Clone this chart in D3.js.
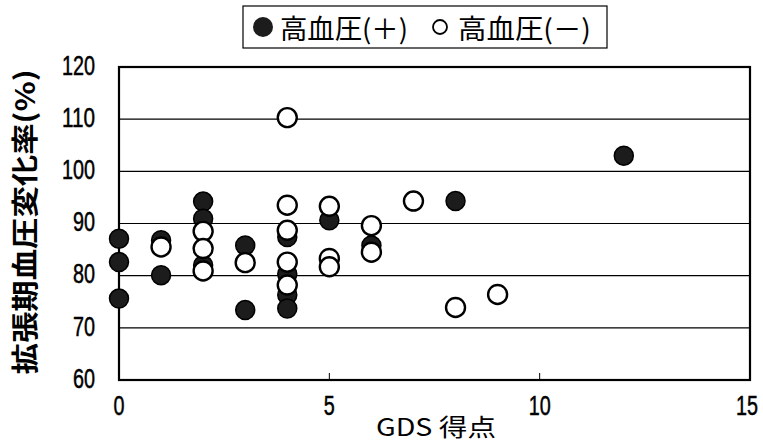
<!DOCTYPE html>
<html lang="ja">
<head>
  <meta charset="UTF-8" />
  <title>GDS score vs diastolic BP change</title>
  <script src="https://d3js.org/d3.v7.min.js"></script>
  <style>
    body { margin: 0; background: #fff; }
    text { fill: #000; }
    .tick-label { font-family: 'Liberation Sans', Arial, sans-serif; font-size: 27px; stroke: #000; stroke-width: 0.5px; }
    .jp { font-family: 'Noto Sans CJK JP', sans-serif; }
  </style>
</head>
<body>
<svg id="chart" width="763" height="442"></svg>
<script>
  // ticks
  const xTicks = [0, 5, 10, 15];
  const yTicks = [60, 70, 80, 90, 100, 110, 120];

  // 高血圧(＋) : filled circles  [GDS score, % change]
  const hyperX = [0, 0, 0, 1, 1, 2, 2, 2, 3, 3, 4, 4, 4, 4, 5, 6, 8, 12];
  const hyperY = [87.1, 82.6, 75.6, 86.8, 80.1, 94.2, 90.9, 82.0, 85.8, 73.4, 87.4, 80.3, 76.3, 73.7, 90.6, 85.8, 94.3, 103.0];

  // 高血圧(－) : open circles
  const normX = [1, 2, 2, 2, 3, 4, 4, 4, 4, 4, 5, 5, 5, 6, 6, 7, 8, 9];
  const normY = [85.5, 88.5, 85.2, 80.9, 82.5, 110.3, 93.5, 88.7, 82.6, 78.2, 93.3, 83.3, 81.7, 89.6, 84.5, 94.3, 73.9, 76.4];

  const svg = d3.select("#chart");
  const margin = { top: 67, right: 13, bottom: 62, left: 119 };
  const W = 763 - margin.left - margin.right;
  const H = 442 - margin.top - margin.bottom;

  const x = d3.scaleLinear().domain([0, 15]).range([0, W]);
  const y = d3.scaleLinear().domain([60, 120]).range([H, 0]);

  const g = svg.append("g").attr("transform", `translate(${margin.left},${margin.top})`);

  // horizontal gridlines
  g.selectAll(".grid")
    .data(yTicks.filter(v => v > 60 && v < 120))
    .enter().append("line")
    .attr("x1", 0).attr("x2", W)
    .attr("y1", d => y(d)).attr("y2", d => y(d))
    .attr("stroke", "#000").attr("stroke-width", 1.2);

  // small x ticks inside the frame
  g.selectAll(".xtick")
    .data(xTicks.filter(v => v > 0 && v < 15))
    .enter().append("line")
    .attr("x1", d => x(d)).attr("x2", d => x(d))
    .attr("y1", H).attr("y2", H - 7)
    .attr("stroke", "#000").attr("stroke-width", 1);

  // frame
  g.append("rect")
    .attr("width", W).attr("height", H)
    .attr("fill", "none").attr("stroke", "#000").attr("stroke-width", 2.2);

  // tick labels (narrow digits)
  g.selectAll(".ylab")
    .data(yTicks)
    .enter().append("text")
    .attr("class", "tick-label")
    .attr("x", -24).attr("y", d => y(d) - 2)
    .attr("dy", "0.36em")
    .attr("text-anchor", "end")
    .attr("textLength", d => String(d).length * 11)
    .attr("lengthAdjust", "spacingAndGlyphs")
    .text(d => d);

  // last label kept inside the page edge
  g.selectAll(".xlab")
    .data(xTicks)
    .enter().append("text")
    .attr("class", "tick-label")
    .attr("x", d => d === 15 ? x(d) + 8 : x(d)).attr("y", H + 35)
    .attr("text-anchor", d => d === 15 ? "end" : "middle")
    .attr("textLength", d => String(d).length * 11)
    .attr("lengthAdjust", "spacingAndGlyphs")
    .text(d => d);

  const r = 9.5;
  // filled first, open circles on top
  g.selectAll(".hyper")
    .data(d3.zip(hyperX, hyperY))
    .enter().append("circle")
    .attr("cx", d => x(d[0])).attr("cy", d => y(d[1]))
    .attr("r", r)
    .attr("fill", "#1c1c1c").attr("stroke", "#000").attr("stroke-width", 1.5);

  g.selectAll(".norm")
    .data(d3.zip(normX, normY))
    .enter().append("circle")
    .attr("cx", d => x(d[0])).attr("cy", d => y(d[1]))
    .attr("r", r)
    .attr("fill", "#fff").attr("stroke", "#000").attr("stroke-width", 2.4);

  // axis titles
  svg.append("text")
    .attr("class", "jp")
    .attr("x", 436).attr("y", 436)
    .attr("text-anchor", "middle")
    .attr("font-size", 24)
    .attr("textLength", 120)
    .attr("lengthAdjust", "spacingAndGlyphs")
    .text("GDS 得点");

  svg.append("text")
    .attr("class", "jp")
    .attr("transform", "translate(35,222) rotate(-90)")
    .attr("text-anchor", "middle")
    .attr("font-size", 27)
    .attr("font-weight", "bold")
    .attr("textLength", 305)
    .attr("lengthAdjust", "spacingAndGlyphs")
    .text("拡張期血圧変化率(%)");

  // legend
  const leg = svg.append("g").attr("transform", "translate(243,6)");
  leg.append("rect")
    .attr("width", 364).attr("height", 42)
    .attr("fill", "#fff").attr("stroke", "#000").attr("stroke-width", 1.2);
  leg.append("circle")
    .attr("cx", 20).attr("cy", 21).attr("r", 10)
    .attr("fill", "#1c1c1c");
  leg.append("text")
    .attr("class", "jp")
    .attr("x", 37).attr("y", 33)
    .attr("font-size", 27)
    .attr("textLength", 128)
    .attr("lengthAdjust", "spacingAndGlyphs")
    .text("高血圧(＋)");
  leg.append("circle")
    .attr("cx", 197).attr("cy", 21).attr("r", 7)
    .attr("fill", "#fff").attr("stroke", "#000").attr("stroke-width", 1.8);
  leg.append("text")
    .attr("class", "jp")
    .attr("x", 215).attr("y", 33)
    .attr("font-size", 27)
    .attr("textLength", 133)
    .attr("lengthAdjust", "spacingAndGlyphs")
    .text("高血圧(－)");
</script>
</body>
</html>
